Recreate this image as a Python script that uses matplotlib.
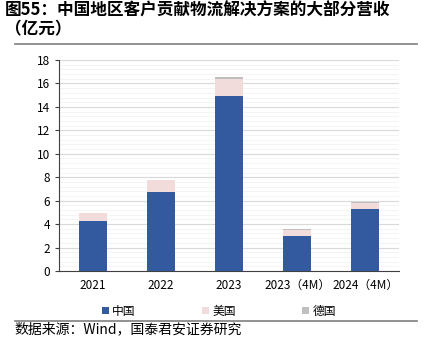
import matplotlib.pyplot as plt
import numpy as np
from matplotlib.lines import Line2D
from matplotlib.ticker import MultipleLocator

plt.rcParams['font.family'] = ['Noto Sans CJK SC', 'DejaVu Sans']

years = ['2021', '2022', '2023', '2023（4M）', '2024（4M）']
china = [4.27, 6.72, 14.90, 3.01, 5.32]
usa = [0.65, 1.05, 1.48, 0.49, 0.45]
germany = [0.02, 0.03, 0.20, 0.06, 0.08]

c_cn = '#335A9F'
c_us = '#F2DCDB'
c_de = '#BFBFBF'

fig = plt.figure(figsize=(4.25, 3.51), dpi=100)
ax = fig.add_axes([0.139, 0.228, 0.8, 0.601])

x = np.arange(len(years))
w = 0.4
cn = np.array(china)
us = np.array(usa)
ax.bar(x, china, w, color=c_cn, label='中国', zorder=3)
ax.bar(x, usa, w, bottom=cn, color=c_us, label='美国', zorder=3)
ax.bar(x, germany, w, bottom=cn + us, color=c_de, label='德国', zorder=3)

ax.set_xlim(-0.5, 4.5)
ax.set_ylim(0, 18)
ax.yaxis.set_major_locator(MultipleLocator(2))
ax.yaxis.set_minor_locator(MultipleLocator(0.4))
ax.grid(axis='y', which='major', color='#D9D9D9', lw=0.8, zorder=0)
ax.grid(axis='y', which='minor', color='#F2F2F2', lw=0.6, zorder=0)
ax.set_xticks(x)
ax.set_xticklabels(years, fontsize=8.5)
ax.tick_params(axis='y', which='major', labelsize=8.5, length=3, direction='out', color='#404040')
ax.tick_params(axis='y', which='minor', length=0)
ax.tick_params(axis='x', length=0, pad=6)
for s in ['top', 'right']:
    ax.spines[s].set_visible(False)
ax.spines['left'].set_color('#404040')
ax.spines['bottom'].set_color('#404040')

ax.legend(loc='center', bbox_to_anchor=(0.47, -0.19), ncol=3, frameon=False,
          fontsize=8.5, handlelength=0.6, handleheight=0.6, columnspacing=5.6,
          handletextpad=0.3)

fig.text(0.012, 0.97, '图55：中国地区客户贡献物流解决方案的大部分营收', fontsize=12,
         fontweight='bold', va='center')
fig.text(0.012, 0.917, '（亿元）', fontsize=12, fontweight='bold', va='center')
fig.add_artist(Line2D([0.035, 0.982], [0.874, 0.874], color='#7F7F7F', lw=1.2))
fig.add_artist(Line2D([0.035, 0.982], [0.086, 0.086], color='#7F7F7F', lw=1.2))
fig.text(0.035, 0.062, '数据来源：Wind，国泰君安证券研究', fontsize=10, va='center')

fig.savefig('out.png', dpi=100)
